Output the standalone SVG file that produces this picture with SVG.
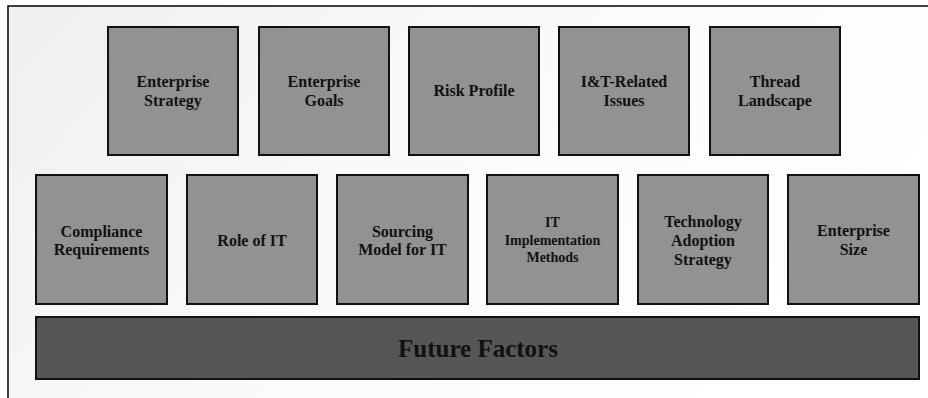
<svg xmlns="http://www.w3.org/2000/svg" width="928" height="398" viewBox="0 0 928 398">
<defs>
<linearGradient id="bg" x1="0" y1="0" x2="1" y2="0.4">
<stop offset="0" stop-color="#efefef"/>
<stop offset="0.5" stop-color="#fafafa"/>
<stop offset="1" stop-color="#ffffff"/>
</linearGradient>
<style>
.box{fill:#929292;stroke:#111;stroke-width:2}
.t{font-family:"Liberation Serif","Times New Roman",serif;font-weight:bold;font-size:16px;fill:#111;text-anchor:middle}
.s{font-size:14px}
.bar{fill:#565656;stroke:#111;stroke-width:2}
.big{font-family:"Liberation Serif","Times New Roman",serif;font-weight:bold;font-size:25px;fill:#111;text-anchor:middle}
</style>
</defs>
<rect width="928" height="398" fill="#ffffff"/>
<rect x="8" y="6" width="940" height="420" fill="url(#bg)" stroke="#111" stroke-width="1.6"/>
<g id="connectors"/>
<g id="enterprise-strategy"><rect class="box" x="108" y="27" width="130" height="128"/><text class="t" x="173" y="87">Enterprise</text><text class="t" x="173" y="106">Strategy</text></g>
<g id="enterprise-goals"><rect class="box" x="259" y="27" width="130" height="128"/><text class="t" x="324" y="87">Enterprise</text><text class="t" x="324" y="106">Goals</text></g>
<g id="risk-profile"><rect class="box" x="409" y="27" width="130" height="128"/><text class="t" x="474" y="96">Risk Profile</text></g>
<g id="it-related-issues"><rect class="box" x="559" y="27" width="130" height="128"/><text class="t" x="624" y="87">I&amp;T-Related</text><text class="t" x="624" y="106">Issues</text></g>
<g id="thread-landscape"><rect class="box" x="710" y="27" width="130" height="128"/><text class="t" x="775" y="87">Thread</text><text class="t" x="775" y="106">Landscape</text></g>
<g id="compliance"><rect class="box" x="36" y="175" width="131" height="129"/><text class="t" x="101.5" y="237">Compliance</text><text class="t" x="101.5" y="255">Requirements</text></g>
<g id="role-of-it"><rect class="box" x="187" y="175" width="130" height="129"/><text class="t" x="252" y="246">Role of IT</text></g>
<g id="sourcing-model"><rect class="box" x="337" y="175" width="131" height="129"/><text class="t" x="402.5" y="237">Sourcing</text><text class="t" x="402.5" y="255">Model for IT</text></g>
<g id="it-implementation"><rect class="box" x="487" y="175" width="131" height="129"/><text class="t s" x="552.5" y="227">IT</text><text class="t s" x="552.5" y="245">Implementation</text><text class="t s" x="552.5" y="262">Methods</text></g>
<g id="technology-adoption"><rect class="box" x="638" y="175" width="130" height="129"/><text class="t" x="703" y="227">Technology</text><text class="t" x="703" y="246">Adoption</text><text class="t" x="703" y="265">Strategy</text></g>
<g id="enterprise-size"><rect class="box" x="788" y="175" width="131" height="129"/><text class="t" x="853.5" y="236">Enterprise</text><text class="t" x="853.5" y="255">Size</text></g>
<g id="future-factors"><rect class="bar" x="36" y="317" width="883" height="62"/><text class="big" x="478" y="357">Future Factors</text></g>
</svg>
